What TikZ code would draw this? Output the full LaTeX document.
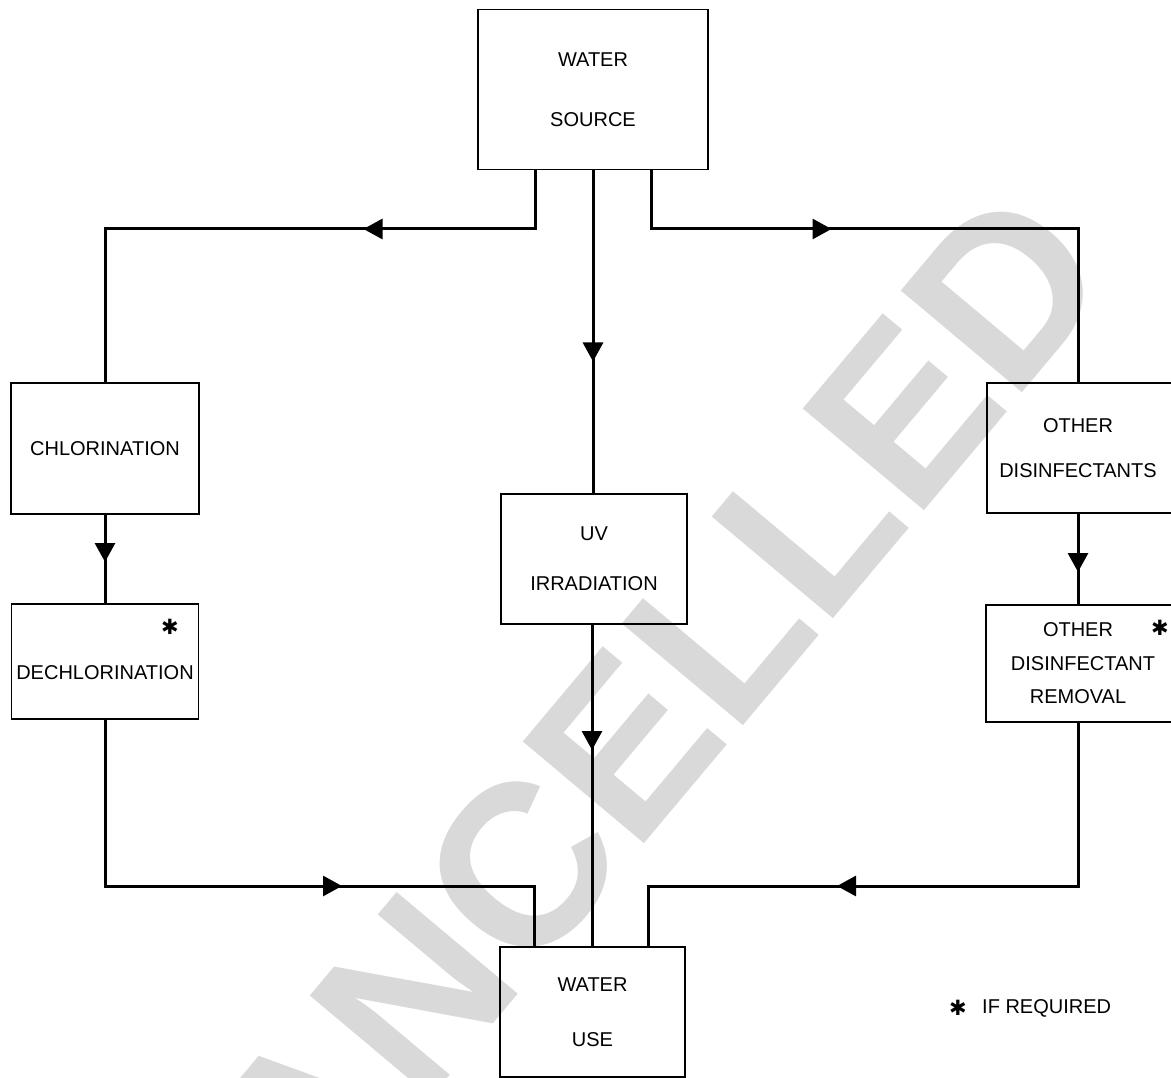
\documentclass[tikz,border=0pt]{standalone}
\usepackage{fontspec}
\setmainfont{Liberation Sans}
\newfontfamily\symfont{DejaVu Sans}
\usetikzlibrary{arrows.meta,decorations.markings}
\definecolor{wmgray}{RGB}{217,217,217}
\begin{document}
\begin{tikzpicture}[x=1pt,y=-1pt,
  box/.style={draw,line width=1.6pt,rectangle,inner sep=0pt,outer sep=0pt,align=center,
    font=\fontsize{20}{24}\selectfont},
  conn/.style={line width=3pt},
  tipat/.style={postaction={decorate},decoration={markings,
    mark=at position #1 with {\arrow{Triangle[length=19pt,width=20pt]}}}},
  star/.style={inner sep=0pt,font=\symfont\fontsize{21}{21}\selectfont},
  wm/.style={text=wmgray,inner sep=0pt,font=\fontsize{230}{230}\selectfont\bfseries}
]
\useasboundingbox (0,0) rectangle (1171,1078);
\clip (0,0) rectangle (1171,1078);
\fill[white] (0,0) rectangle (1171,1078);

% watermark
\node[wm,rotate=50] (wmark) at (603,770) {CANCELLED};

% reference coordinates
\coordinate (jl) at (535,229);
\coordinate (jr) at (651,229);
\coordinate (cc) at (593,0);
\coordinate (cc2) at (592,0);
\coordinate (rc) at (1078,0);
\coordinate (bl) at (534,886);
\coordinate (br) at (648,886);

% boxes
\node[box,minimum width=230pt,minimum height=160pt] (src) at (593,89.5) {WATER\\[36pt]SOURCE};
\node[box,minimum width=188pt,minimum height=131pt] (chl) at (105,448.5) {CHLORINATION};
\node[box,minimum width=187pt,minimum height=115pt,text height=35pt,text depth=0pt] (dech) at (105,661.5) {DECHLORINATION};
\node[box,minimum width=186pt,minimum height=130pt] (uv) at (594,559) {UV\\[26pt]IRRADIATION};
\node[box,minimum width=193pt,minimum height=130pt] (oth) at (1083.5,448) {OTHER\hspace*{11pt}\\[21pt]DISINFECTANTS\hspace*{11pt}};
\node[box,minimum width=194pt,minimum height=117pt] (rem) at (1083,663.5) {OTHER\hspace*{10pt}\\[9.5pt]DISINFECTANT\hspace*{10pt}\\[9.5pt]REMOVAL\hspace*{10pt}};
\node[box,minimum width=185pt,minimum height=130pt] (use) at (592.5,1012) {WATER\\[31pt]USE};

% asterisks and legend
\node[star] (st1) at (170,627) {✱};
\node[star] (st2) at (1160,628) {✱};
\node[star] (st3) at (958,1008) {✱};
\node[inner sep=0pt,anchor=west,font=\fontsize{20}{24}\selectfont] (leg) at (982,1008) {IF REQUIRED};

% connectors
\draw[conn,tipat=231pt] (src.south -| jl) -- (jl) -| (chl.north);
\draw[conn,tipat=240pt] (src.south -| jr) -- (jr) -- (jr -| rc) -- (oth.north -| rc);
\draw[conn,tipat=192pt] (src.south -| cc) -- (uv.north -| cc);
\draw[conn,tipat=48pt] (chl.south) -- (dech.north);
\draw[conn,tipat=59pt] (oth.south -| rc) -- (rem.north -| rc);
\draw[conn,tipat=126pt] (uv.south -| cc2) -- (use.north -| cc2);
\draw[conn,tipat=404pt] (dech.south) -- (dech.south |- bl) -- (bl) -- (use.north -| bl);
\draw[conn,tipat=405pt] (rem.south -| rc) -- (br -| rc) -- (br) -- (use.north -| br);
\end{tikzpicture}
\end{document}
